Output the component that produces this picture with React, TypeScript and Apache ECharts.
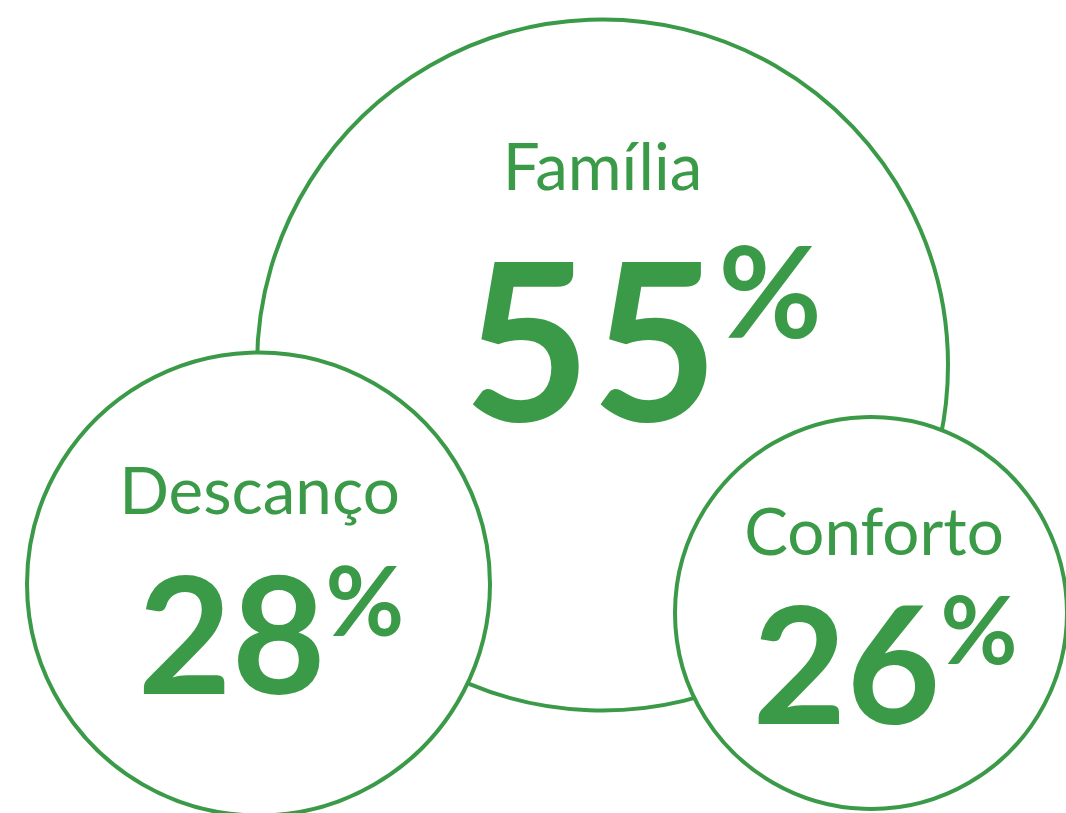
import React, { useEffect, useRef } from "react";
import * as echarts from "echarts";

// Data
const categories = ["Família", "Descanço", "Conforto"];
const values = [55, 28, 26];

// Layout (pixel space of the 1066x813 canvas): circle centers and radii
const centersX = [602.5, 258.5, 871];
const centersY = [365, 584, 613];
const radii = [345.5, 231.5, 196];

// Label typography / placement per circle
const nameLineHeights = [124, 124, 101];
const numFontSizes = [220, 162, 162];
const pctFontSizes = [126, 96, 94];
const pctLineHeights = [102, 80, 80];
const labelOffsets: [number, number][] = [
  [40, -91],
  [12.5, -15],
  [14, -2.5],
];
const namePadRight = [80, 23, 22];

const GREEN = "#3a9a47";
const FONT = "Lato, 'Open Sans', sans-serif";

export default function App() {
  const ref = useRef<HTMLDivElement>(null);
  useEffect(() => {
    document.body.style.margin = "0";
    const chart = echarts.init(ref.current!, undefined, { renderer: "svg" });
    const data = categories.map((name, i) => ({
      name,
      value: [centersX[i], centersY[i], values[i]],
      symbolSize: radii[i] * 2,
      label: {
        show: true,
        position: "inside",
        offset: labelOffsets[i],
        align: "center",
        verticalAlign: "middle",
        formatter: `{name${i}|${name}}\n{num${i}|${values[i]}}{pct${i}|%}`,
        rich: {
          [`name${i}`]: {
            fontFamily: FONT,
            fontSize: 65.5,
            color: GREEN,
            lineHeight: nameLineHeights[i],
            padding: [0, namePadRight[i], 0, 0],
          },
          [`num${i}`]: {
            fontFamily: FONT,
            fontWeight: "bold",
            fontSize: numFontSizes[i],
            color: GREEN,
            lineHeight: numFontSizes[i],
            verticalAlign: "middle",
          },
          [`pct${i}`]: {
            fontFamily: FONT,
            fontWeight: "bold",
            fontSize: pctFontSizes[i],
            color: GREEN,
            lineHeight: pctLineHeights[i],
            verticalAlign: "top",
          },
        },
      },
    }));
    chart.setOption({
      animation: false,
      backgroundColor: "#ffffff",
      grid: { left: 0, right: 0, top: 0, bottom: 0 },
      xAxis: { type: "value", min: 0, max: 1066, show: false },
      yAxis: { type: "value", min: 0, max: 813, inverse: true, show: false },
      series: [
        {
          type: "scatter",
          symbol: "circle",
          data,
          itemStyle: {
            color: "#ffffff",
            borderColor: GREEN,
            borderWidth: 4,
            opacity: 1,
          },
          emphasis: { disabled: true },
          z: 2,
        },
      ],
    });
    return () => chart.dispose();
  }, []);
  return (
    <div
      ref={ref}
      style={{ position: "absolute", left: 0, top: 0, width: 1066, height: 813 }}
    />
  );
}
